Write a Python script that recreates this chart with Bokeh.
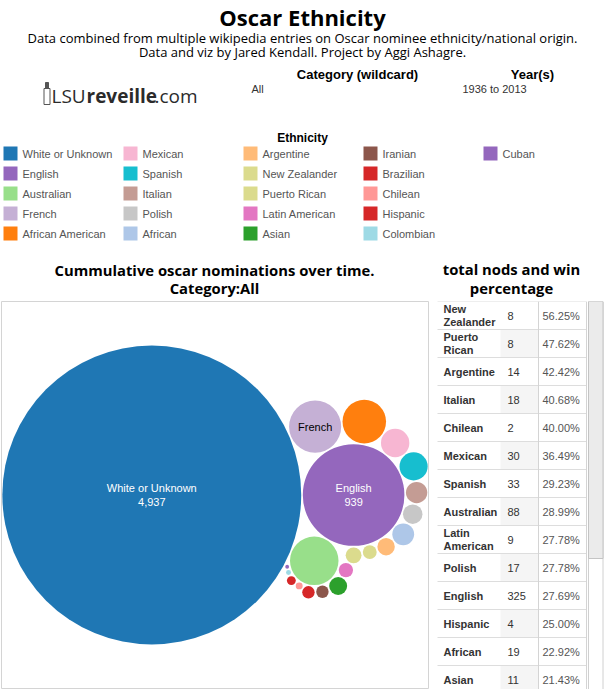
import math
from bokeh.plotting import figure
from bokeh.models import ColumnDataSource, Range1d
from bokeh.layouts import column, row
from bokeh.embed import file_html
from bokeh.resources import INLINE
from bokeh.core.properties import value

# ---------------- data ----------------
ethnicities = ["White or Unknown", "English", "Australian", "French", "African American",
               "Mexican", "Spanish", "Italian", "Polish", "African", "Argentine",
               "New Zealander", "Puerto Rican", "Latin American", "Asian", "Iranian",
               "Brazilian", "Chilean", "Hispanic", "Colombian", "Cuban"]
nominations = [4937, 939, 301, 336, 255, 132, 130, 85, 74, 88, 62,
               44, 54, 46, 65, 37, 37, 15, 22, 9, 6]
colors = ["#1f77b4", "#9467bd", "#98df8a", "#c5b0d5", "#ff7f0e",
          "#f7b6d2", "#17becf", "#c49c94", "#c7c7c7", "#aec7e8", "#ffbb78",
          "#dbdb8d", "#dbdb8d", "#e377c2", "#2ca02c", "#8c564b",
          "#d62728", "#ff9896", "#d62728", "#9edae5", "#9467bd"]

table_names = ["New Zealander", "Puerto Rican", "Argentine", "Italian", "Chilean",
               "Mexican", "Spanish", "Australian", "Latin American", "Polish",
               "English", "Hispanic", "African", "Asian"]
table_nods = [8, 8, 14, 18, 2, 30, 33, 88, 9, 17, 325, 4, 19, 11]
table_win_pct = [56.25, 47.62, 42.42, 40.68, 40.00, 36.49, 29.23, 28.99, 27.78,
                 27.78, 27.69, 25.00, 22.92, 21.43]

main_title = "Oscar Ethnicity"
subtitle_lines = ["Data combined from multiple wikipedia entries on Oscar nominee ethnicity/national origin.",
                  "Data and viz by Jared Kendall. Project by Aggi Ashagre."]
filter_labels = ["Category (wildcard)", "Year(s)"]
filter_values = ["All", "1936 to 2013"]
legend_title = "Ethnicity"
bubble_title = ["Cummulative oscar nominations over time.", "Category:All"]
table_title = ["total nods and win", "percentage"]

TITLE_FONT = "Open Sans"
ARIAL = "Liberation Sans"

# ---------------- circle packing (front-chain spiral) ----------------
class Node:
    def __init__(self, c):
        self.c = c
        self.next = None
        self.prev = None


def place(b, a, c):
    dx = b["x"] - a["x"]
    dy = b["y"] - a["y"]
    d2 = dx * dx + dy * dy
    if d2:
        a2 = (a["r"] + c["r"]) ** 2
        b2 = (b["r"] + c["r"]) ** 2
        if a2 > b2:
            x = (d2 + b2 - a2) / (2 * d2)
            y = math.sqrt(max(0.0, b2 / d2 - x * x))
            c["x"] = b["x"] - x * dx - y * dy
            c["y"] = b["y"] - x * dy + y * dx
        else:
            x = (d2 + a2 - b2) / (2 * d2)
            y = math.sqrt(max(0.0, a2 / d2 - x * x))
            c["x"] = a["x"] + x * dx - y * dy
            c["y"] = a["y"] + x * dy + y * dx
    else:
        c["x"] = a["x"] + c["r"]
        c["y"] = a["y"]


def intersects(a, b):
    dr = a["r"] + b["r"] - 1e-6
    dx = b["x"] - a["x"]
    dy = b["y"] - a["y"]
    return dr > 0 and dr * dr > dx * dx + dy * dy


def pack(radii):
    circles = [{"r": r, "x": 0.0, "y": 0.0} for r in radii]
    n = len(circles)
    A = circles[0]
    B = circles[1]
    A["x"] = -B["r"]
    B["x"] = A["r"]
    C = circles[2]
    place(B, A, C)
    a, b, c = Node(A), Node(B), Node(C)
    a.next = b; c.prev = b
    b.next = c; a.prev = c
    c.next = a; b.prev = a
    i = 3
    while i < n:
        circ = circles[i]
        place(a.c, b.c, circ)
        cn = Node(circ)
        j = b.next; k = a.prev; sj = b.c["r"]; sk = a.c["r"]
        restart = False
        while True:
            if sj <= sk:
                if intersects(j.c, circ):
                    b = j; a.next = b; b.prev = a
                    restart = True
                    break
                sj += j.c["r"]; j = j.next
            else:
                if intersects(k.c, circ):
                    a = k; a.next = b; b.prev = a
                    restart = True
                    break
                sk += k.c["r"]; k = k.prev
            if j is k.next:
                break
        if restart:
            continue
        cn.prev = a; cn.next = b
        a.next = cn; b.prev = cn
        a = cn          # keep spiralling around the same neighbour
        i += 1
    return circles


# bubble size: radius grows with nominations (Tableau-like size curve)
radii = [151.0 * (v / max(nominations)) ** 0.65 for v in nominations]
PAD = 0.8
packed = pack([r + PAD for r in radii])
bx = [c["x"] for c in packed]
by = [-c["y"] for c in packed]


def lum(hexc):
    r, g, b = (int(hexc[i:i + 2], 16) for i in (1, 3, 5))
    return 0.299 * r + 0.587 * g + 0.114 * b


labels = []
for name, v, r in zip(ethnicities, nominations, radii):
    if r > 40:
        labels.append(name + "\n" + f"{v:,}")
    elif r > 25 and len(name) * 6.2 < 1.5 * r:
        labels.append(name)
    else:
        labels.append("")
label_colors = ["#000000" if lum(c) > 170 else "#ffffff" for c in colors]

# ---------------- header figure (dashboard pixel coordinates) ----------------
W = 604
HDR_H = 300
hdr = figure(width=W, height=HDR_H, x_range=Range1d(0, 604), y_range=Range1d(300, 0),
             output_backend="svg", toolbar_location=None, x_axis_type=None, y_axis_type=None,
             min_border=0, outline_line_color=None)
hdr.grid.visible = False

hdr.text(x=[302], y=[16], text=[main_title], text_font=value(TITLE_FONT), text_font_style="bold",
         text_font_size="22px", text_align="center", text_baseline="middle", text_color="#000000")
hdr.text(x=[302, 302], y=[37, 51], text=subtitle_lines, text_font=value(TITLE_FONT),
         text_font_size="13px", text_align="center", text_baseline="middle", text_color="#000000")
hdr.text(x=[357, 532], y=[74, 74], text=filter_labels, text_font=value(ARIAL), text_font_style="bold",
         text_font_size="13px", text_align="center", text_baseline="middle", text_color="#000000")
hdr.text(x=[251, 462], y=[88, 88], text=filter_values, text_font=value(ARIAL),
         text_font_size="11px", text_align="left", text_baseline="middle", text_color="#333333")

# logo text
hdr.text(x=[51], y=[95], text=["LSU"], text_font=value(TITLE_FONT), text_font_size="19px",
         text_align="left", text_baseline="middle", text_color="#2b2b2b")
hdr.text(x=[86], y=[95], text=["reveille"], text_font=value(TITLE_FONT), text_font_style="bold",
         text_font_size="19px", text_align="left", text_baseline="middle", text_color="#2b2b2b")
hdr.text(x=[154], y=[95], text=[".com"], text_font=value(TITLE_FONT), text_font_size="19px",
         text_align="left", text_baseline="middle", text_color="#2b2b2b")
# small tower mark of the logo
hdr.quad(left=[43.5], right=[49.5], top=[88], bottom=[104], fill_color=None, line_color="#555555", line_width=1)
hdr.quad(left=[45], right=[48], top=[82], bottom=[88], fill_color="#555555", line_color="#555555")

hdr.text(x=[302], y=[137], text=[legend_title], text_font=value(ARIAL), text_font_style="bold",
         text_font_size="12px", text_align="center", text_baseline="middle", text_color="#000000")

idx = list(range(len(ethnicities)))
leg = ColumnDataSource(dict(
    sx=[10 + 120 * (i // 5) for i in idx],
    tx=[22 + 120 * (i // 5) for i in idx],
    y=[153 + 20 * (i % 5) for i in idx],
    name=ethnicities, color=colors))
hdr.rect(x="sx", y="y", width=14, height=14, fill_color="color", line_color=None, source=leg)
hdr.text(x="tx", y="y", text="name", source=leg, text_font=value(ARIAL), text_font_size="11px",
         text_align="left", text_baseline="middle", text_color="#555555")

hdr.text(x=[214, 214], y=[269, 287], text=bubble_title, text_font=value(TITLE_FONT),
         text_font_style="bold", text_font_size="14.8px", text_align="center", text_baseline="middle",
         text_color="#000000")
hdr.text(x=[511, 511], y=[268, 287], text=table_title, text_font=value(TITLE_FONT),
         text_font_style="bold", text_font_size="14.8px", text_align="center", text_baseline="middle",
         text_color="#000000")

# ---------------- bubble figure ----------------
FW, FH = 427, 387
xmin = min(x - r for x, r in zip(bx, radii))
xmax = max(x + r for x, r in zip(bx, radii))
ymin = min(y - r for y, r in zip(by, radii))
ymax = max(y + r for y, r in zip(by, radii))
xs = (xmax - xmin) * 1.004
xc = (xmin + xmax) / 2
yc = (ymin + ymax) / 2
ys = xs * FH / FW

bub = figure(frame_width=FW, frame_height=FH,
             x_range=Range1d(xc - xs / 2, xc + xs / 2), y_range=Range1d(yc - ys / 2, yc + ys / 2),
             output_backend="svg", toolbar_location=None, x_axis_type=None, y_axis_type=None,
             min_border_left=1, min_border_right=4, min_border_top=1, min_border_bottom=1,
             outline_line_color="#d4d4d4", outline_line_width=1)
bub.grid.visible = False
bsrc = ColumnDataSource(dict(x=bx, y=by, r=radii, color=colors, name=ethnicities,
                             label=labels, lc=label_colors))
bub.circle(x="x", y="y", radius="r", fill_color="color", line_color=None, source=bsrc)
bub.text(x="x", y="y", text="label", text_color="lc", source=bsrc, text_font=value(ARIAL),
         text_font_size="11px", text_align="center", text_baseline="middle", text_line_height=1.1)

# ---------------- table figure ----------------
TW, TH = 172, 389
tab = figure(frame_width=TW, frame_height=TH, x_range=Range1d(432, 604), y_range=Range1d(689, 300),
             output_backend="svg", toolbar_location=None, x_axis_type=None, y_axis_type=None,
             min_border=0, outline_line_color=None)
tab.grid.visible = False
ROW = 28
TOP = 300
n = len(table_names)
rows = list(range(n))
tsrc = ColumnDataSource(dict(
    top=[TOP + ROW * i for i in rows],
    bot=[TOP + ROW * (i + 1) for i in rows],
    mid=[TOP + ROW * i + ROW / 2 for i in rows],
    name=[nm.replace(" ", "\n", 1) if len(nm) > 11 else nm for nm in table_names],
    nods=[str(v) for v in table_nods],
    pct=[f"{v:.2f}%" for v in table_win_pct],
    band=["#f5f5f5" if i % 2 else "#ffffff" for i in rows]))
tab.quad(left=500, right=538, top="top", bottom="bot", fill_color="band", line_color=None, source=tsrc)
tab.segment(x0=437, x1=586, y0="top", y1="top", line_color="#dddddd", line_width=1, source=tsrc)
tab.segment(x0=[538, 586], x1=[538, 586], y0=[TOP, TOP], y1=[TOP + ROW * n, TOP + ROW * n],
            line_color="#d4d4d4", line_width=1)
tab.text(x=443, y="mid", text="name", source=tsrc, text_font=value(ARIAL), text_font_style="bold",
         text_font_size="11px", text_align="left", text_baseline="middle", text_color="#333333",
         text_line_height=1.15)
tab.text(x=507, y="mid", text="nods", source=tsrc, text_font=value(ARIAL), text_font_size="11px",
         text_align="left", text_baseline="middle", text_color="#333333")
tab.text(x=542, y="mid", text="pct", source=tsrc, text_font=value(ARIAL), text_font_size="11px",
         text_align="left", text_baseline="middle", text_color="#555555")
# scrollbar
tab.quad(left=[588], right=[602.5], top=[TOP], bottom=[692], fill_color="#ffffff",
         line_color="#d0d0d0", line_width=1)
tab.quad(left=[588], right=[602.5], top=[TOP], bottom=[557], fill_color="#ebebeb",
         line_color="#c4c4c4", line_width=1)

layout = column(hdr, row(bub, tab))
open("out.html", "w").write(file_html(layout, INLINE, title="Oscar Ethnicity"))
